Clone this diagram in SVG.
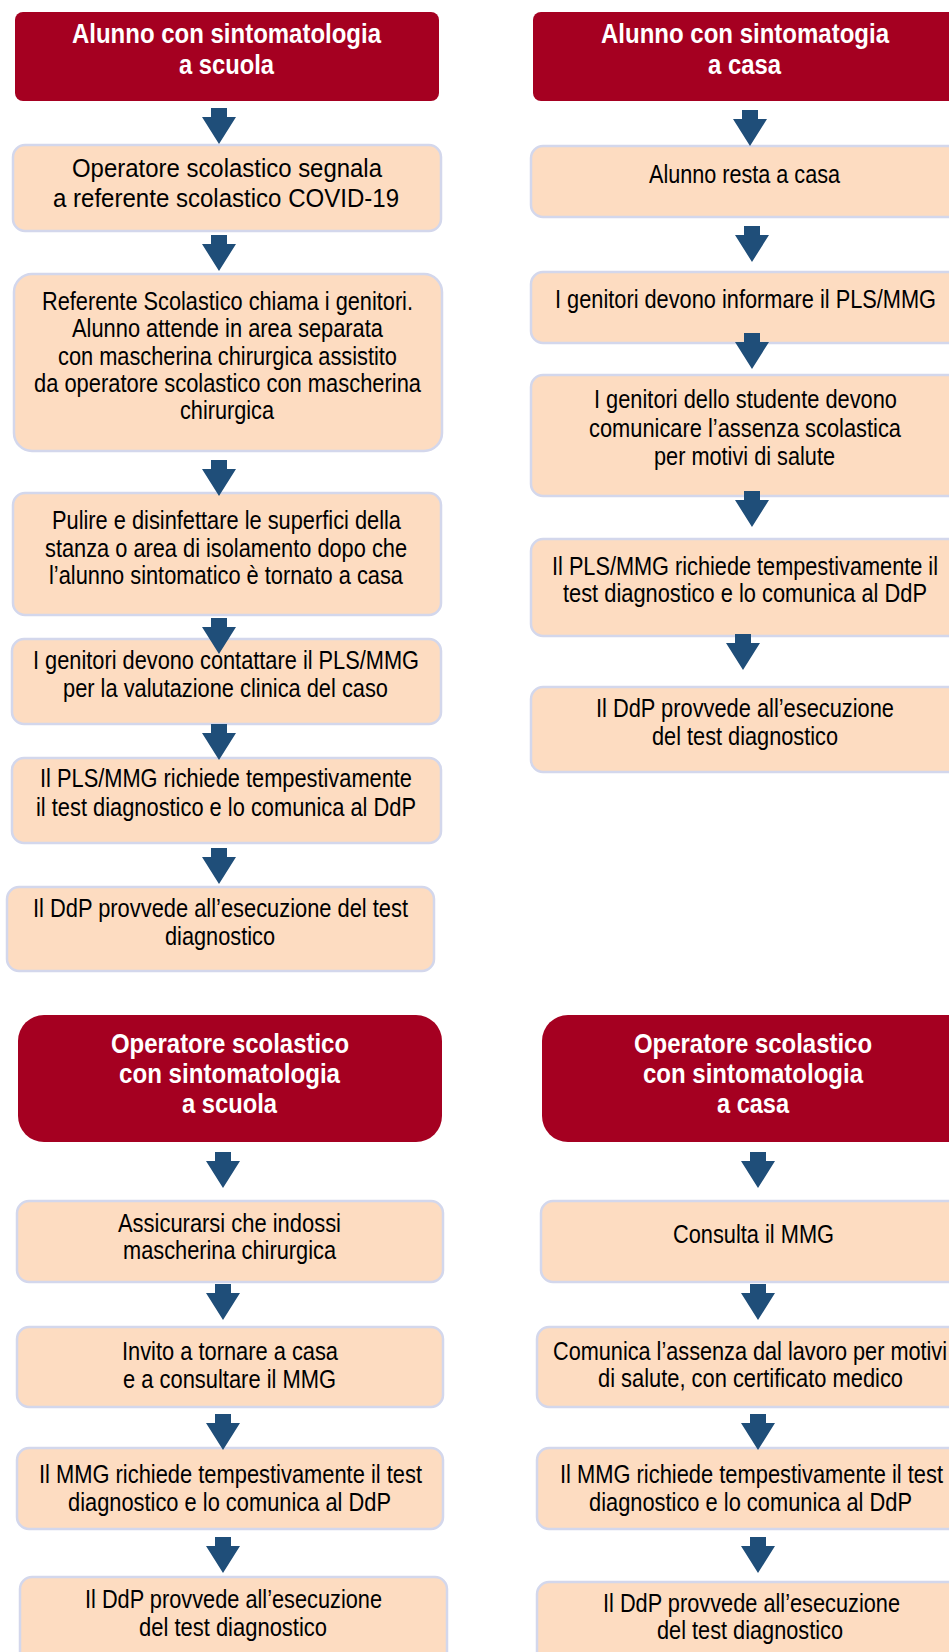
<svg xmlns="http://www.w3.org/2000/svg" xmlns:xlink="http://www.w3.org/1999/xlink" width="949" height="1652" viewBox="0 0 949 1652">
<defs>
<style>
.hdr{fill:#a50021;}
.box{fill:#fddcc1;stroke:#d3d7ec;stroke-width:2.5;}
.ht{font-family:"Liberation Sans Narrow","Arial Narrow","Liberation Sans",Arial,sans-serif;font-weight:bold;font-size:27px;fill:#ffffff;}
.bt{font-family:"Liberation Sans Narrow","Arial Narrow","Liberation Sans",Arial,sans-serif;font-size:25.5px;fill:#000000;}
.arr{fill:#1f4e79;}
</style>
<polygon id="arr" class="arr" points="-8,0 8,0 8,9 17,9 0,36 -17,9 -8,9"/>
</defs>
<rect width="949" height="1652" fill="#ffffff"/>

<g id="nodes">
<g id="h1"><rect class="hdr" x="15" y="12" width="424" height="89" rx="8"/>
<text class="ht" x="72" y="43" textLength="309" lengthAdjust="spacingAndGlyphs">Alunno con sintomatologia</text>
<text class="ht" x="179" y="74" textLength="95" lengthAdjust="spacingAndGlyphs">a scuola</text></g>
<g id="l1"><rect class="box" x="13" y="145" width="428" height="86" rx="12"/>
<text class="bt" x="72" y="177" textLength="310" lengthAdjust="spacingAndGlyphs">Operatore scolastico segnala</text>
<text class="bt" x="53" y="207" textLength="346" lengthAdjust="spacingAndGlyphs">a referente scolastico COVID-19</text></g>
<g id="l2"><rect class="box" x="14" y="274" width="428" height="177" rx="18"/>
<text class="bt" x="42" y="310" textLength="371" lengthAdjust="spacingAndGlyphs">Referente Scolastico chiama i genitori.</text>
<text class="bt" x="72" y="337" textLength="311" lengthAdjust="spacingAndGlyphs">Alunno attende in area separata</text>
<text class="bt" x="58" y="365" textLength="339" lengthAdjust="spacingAndGlyphs">con mascherina chirurgica assistito</text>
<text class="bt" x="34" y="392" textLength="387" lengthAdjust="spacingAndGlyphs">da operatore scolastico con mascherina</text>
<text class="bt" x="180" y="419" textLength="94" lengthAdjust="spacingAndGlyphs">chirurgica</text></g>
<g id="l3"><rect class="box" x="13" y="493" width="428" height="122" rx="12"/>
<text class="bt" x="52" y="529" textLength="349" lengthAdjust="spacingAndGlyphs">Pulire e disinfettare le superfici della</text>
<text class="bt" x="45" y="557" textLength="362" lengthAdjust="spacingAndGlyphs">stanza o area di isolamento dopo che</text>
<text class="bt" x="49" y="584" textLength="354" lengthAdjust="spacingAndGlyphs">l’alunno sintomatico è tornato a casa</text></g>
<g id="l4"><rect class="box" x="12" y="639" width="429" height="85" rx="12"/>
<text class="bt" x="33" y="669" textLength="386" lengthAdjust="spacingAndGlyphs">I genitori devono contattare il PLS/MMG</text>
<text class="bt" x="63" y="697" textLength="325" lengthAdjust="spacingAndGlyphs">per la valutazione clinica del caso</text></g>
<g id="l5"><rect class="box" x="12" y="758" width="429" height="85" rx="12"/>
<text class="bt" x="40" y="787" textLength="372" lengthAdjust="spacingAndGlyphs">Il PLS/MMG richiede tempestivamente</text>
<text class="bt" x="36" y="816" textLength="380" lengthAdjust="spacingAndGlyphs">il test diagnostico e lo comunica al DdP</text></g>
<g id="l6"><rect class="box" x="7" y="887" width="427" height="84" rx="12"/>
<text class="bt" x="33" y="917" textLength="375" lengthAdjust="spacingAndGlyphs">Il DdP provvede all’esecuzione del test</text>
<text class="bt" x="165" y="945" textLength="110" lengthAdjust="spacingAndGlyphs">diagnostico</text></g>

<g id="h2"><rect class="hdr" x="533" y="12" width="440" height="89" rx="8"/>
<text class="ht" x="601" y="43" textLength="288" lengthAdjust="spacingAndGlyphs">Alunno con sintomatogia</text>
<text class="ht" x="708" y="74" textLength="73" lengthAdjust="spacingAndGlyphs">a casa</text></g>
<g id="r1"><rect class="box" x="531" y="146" width="440" height="71" rx="12"/>
<text class="bt" x="649" y="183" textLength="191" lengthAdjust="spacingAndGlyphs">Alunno resta a casa</text></g>
<g id="r2"><rect class="box" x="531" y="272" width="440" height="71" rx="12"/>
<text class="bt" x="555" y="308" textLength="381" lengthAdjust="spacingAndGlyphs">I genitori devono informare il PLS/MMG</text></g>
<g id="r3"><rect class="box" x="531" y="375" width="440" height="121" rx="12"/>
<text class="bt" x="594" y="408" textLength="303" lengthAdjust="spacingAndGlyphs">I genitori dello studente devono</text>
<text class="bt" x="589" y="437" textLength="312" lengthAdjust="spacingAndGlyphs">comunicare l’assenza scolastica</text>
<text class="bt" x="654" y="465" textLength="181" lengthAdjust="spacingAndGlyphs">per motivi di salute</text></g>
<g id="r4"><rect class="box" x="531" y="539" width="440" height="97" rx="12"/>
<text class="bt" x="552" y="575" textLength="386" lengthAdjust="spacingAndGlyphs">Il PLS/MMG richiede tempestivamente il</text>
<text class="bt" x="563" y="602" textLength="364" lengthAdjust="spacingAndGlyphs">test diagnostico e lo comunica al DdP</text></g>
<g id="r5"><rect class="box" x="531" y="687" width="440" height="85" rx="12"/>
<text class="bt" x="596" y="717" textLength="298" lengthAdjust="spacingAndGlyphs">Il DdP provvede all’esecuzione</text>
<text class="bt" x="652" y="745" textLength="186" lengthAdjust="spacingAndGlyphs">del test diagnostico</text></g>

<g id="h3"><rect class="hdr" x="18" y="1015" width="424" height="127" rx="26"/>
<text class="ht" x="111" y="1053" textLength="238" lengthAdjust="spacingAndGlyphs">Operatore scolastico</text>
<text class="ht" x="119" y="1083" textLength="221" lengthAdjust="spacingAndGlyphs">con sintomatologia</text>
<text class="ht" x="182" y="1113" textLength="95" lengthAdjust="spacingAndGlyphs">a scuola</text></g>
<g id="b1"><rect class="box" x="17" y="1201" width="426" height="81" rx="12"/>
<text class="bt" x="118" y="1232" textLength="223" lengthAdjust="spacingAndGlyphs">Assicurarsi che indossi</text>
<text class="bt" x="123" y="1259" textLength="213" lengthAdjust="spacingAndGlyphs">mascherina chirurgica</text></g>
<g id="b2"><rect class="box" x="17" y="1327" width="426" height="80" rx="12"/>
<text class="bt" x="122" y="1360" textLength="216" lengthAdjust="spacingAndGlyphs">Invito a tornare a casa</text>
<text class="bt" x="123" y="1388" textLength="213" lengthAdjust="spacingAndGlyphs">e a consultare il MMG</text></g>
<g id="b3"><rect class="box" x="17" y="1448" width="426" height="81" rx="12"/>
<text class="bt" x="39" y="1483" textLength="383" lengthAdjust="spacingAndGlyphs">Il MMG richiede tempestivamente il test</text>
<text class="bt" x="68" y="1511" textLength="323" lengthAdjust="spacingAndGlyphs">diagnostico e lo comunica al DdP</text></g>
<g id="b4"><rect class="box" x="20" y="1577" width="427" height="95" rx="12"/>
<text class="bt" x="85" y="1608" textLength="297" lengthAdjust="spacingAndGlyphs">Il DdP provvede all’esecuzione</text>
<text class="bt" x="139" y="1636" textLength="188" lengthAdjust="spacingAndGlyphs">del test diagnostico</text></g>

<g id="h4"><rect class="hdr" x="542" y="1015" width="440" height="127" rx="26"/>
<text class="ht" x="634" y="1053" textLength="238" lengthAdjust="spacingAndGlyphs">Operatore scolastico</text>
<text class="ht" x="643" y="1083" textLength="220" lengthAdjust="spacingAndGlyphs">con sintomatologia</text>
<text class="ht" x="717" y="1113" textLength="72" lengthAdjust="spacingAndGlyphs">a casa</text></g>
<g id="c1"><rect class="box" x="541" y="1201" width="440" height="81" rx="12"/>
<text class="bt" x="673" y="1243" textLength="161" lengthAdjust="spacingAndGlyphs">Consulta il MMG</text></g>
<g id="c2"><rect class="box" x="537" y="1327" width="440" height="80" rx="12"/>
<text class="bt" x="553" y="1360" textLength="394" lengthAdjust="spacingAndGlyphs">Comunica l’assenza dal lavoro per motivi</text>
<text class="bt" x="598" y="1387" textLength="305" lengthAdjust="spacingAndGlyphs">di salute, con certificato medico</text></g>
<g id="c3"><rect class="box" x="537" y="1448" width="440" height="81" rx="12"/>
<text class="bt" x="560" y="1483" textLength="383" lengthAdjust="spacingAndGlyphs">Il MMG richiede tempestivamente il test</text>
<text class="bt" x="589" y="1511" textLength="323" lengthAdjust="spacingAndGlyphs">diagnostico e lo comunica al DdP</text></g>
<g id="c4"><rect class="box" x="537" y="1582" width="440" height="95" rx="12"/>
<text class="bt" x="603" y="1612" textLength="297" lengthAdjust="spacingAndGlyphs">Il DdP provvede all’esecuzione</text>
<text class="bt" x="657" y="1639" textLength="186" lengthAdjust="spacingAndGlyphs">del test diagnostico</text></g>
</g>

<g id="connectors">
<use xlink:href="#arr" x="219" y="108"/>
<use xlink:href="#arr" x="219" y="235"/>
<use xlink:href="#arr" x="219" y="460"/>
<use xlink:href="#arr" x="219" y="618"/>
<use xlink:href="#arr" x="219" y="724"/>
<use xlink:href="#arr" x="219" y="848"/>
<use xlink:href="#arr" x="750" y="110"/>
<use xlink:href="#arr" x="752" y="226"/>
<use xlink:href="#arr" x="752" y="333"/>
<use xlink:href="#arr" x="752" y="491"/>
<use xlink:href="#arr" x="743" y="634"/>
<use xlink:href="#arr" x="223" y="1152"/>
<use xlink:href="#arr" x="223" y="1284"/>
<use xlink:href="#arr" x="223" y="1414"/>
<use xlink:href="#arr" x="223" y="1537"/>
<use xlink:href="#arr" x="758" y="1152"/>
<use xlink:href="#arr" x="758" y="1284"/>
<use xlink:href="#arr" x="758" y="1414"/>
<use xlink:href="#arr" x="758" y="1537"/>
</g>
</svg>
